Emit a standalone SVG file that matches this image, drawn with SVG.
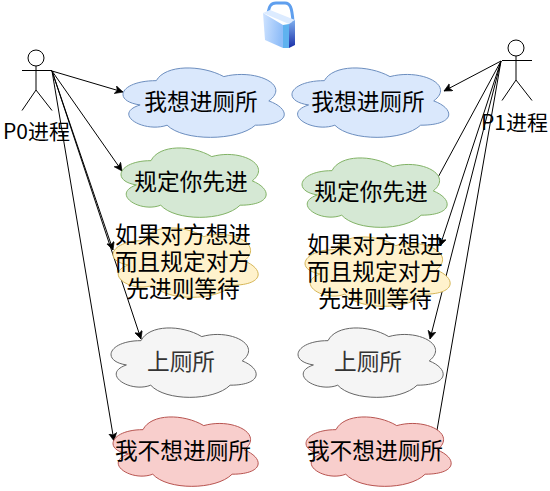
<svg xmlns="http://www.w3.org/2000/svg" width="550" height="491" viewBox="0 0 550 491">
<style>
text{font-family:"Noto Sans CJK SC","Liberation Sans",sans-serif;font-size:22.7px;fill:#000;text-anchor:middle}
.cl{vector-effect:non-scaling-stroke;stroke-width:1}
.blue{fill:#dae8fc;stroke:#6c8ebf}
.green{fill:#d5e8d4;stroke:#82b366}
.yellow{fill:#fff2cc;stroke:#d6b656}
.grey{fill:#f5f5f5;stroke:#666}
.red{fill:#f8cecc;stroke:#b85450}
.a{fill:none;stroke:#000;stroke-width:1}
.l{fill:none;stroke:#000;stroke-width:1;marker-end:url(#ah)}
.dim{fill:#333}
.act{font-size:21px}
</style>
<defs>
<marker id="ah" markerUnits="userSpaceOnUse" markerWidth="10" markerHeight="9" refX="8" refY="4" orient="auto"><path d="M0 0L8 4L0 8L2 4Z" fill="#000" stroke="#000" stroke-width=".6"/></marker>
<linearGradient id="lk" x1="0" x2="1" y1="0" y2="0.2"><stop offset="0" stop-color="#cfe3ff"/><stop offset="1" stop-color="#8fbdf8"/></linearGradient>
<linearGradient id="ls" x1="0" x2="0" y1="0" y2="1"><stop offset="0" stop-color="#7fb0ef"/><stop offset="1" stop-color="#1a2fa8"/></linearGradient>
<path id="cloud" class="cl" d="M25 25C5 25 0 50 16 55C0 66 18 90 31 80C40 100 70 100 80 80C100 80 100 60 87.5 50C100 30 80 10 62.5 20C50 5 30 5 25 25Z"/>
</defs>
<g id="connectors">
<path class="l" d="M52 71L123 92"/>
<path class="l" d="M52 71L122 171"/>
<path class="l" d="M52 71L113 250"/>
<path class="l" d="M52 71L141 339"/>
<path class="l" d="M52 71L114 441"/>
<path class="l" d="M501 61L444 91"/>
<path class="a" d="M501 61L436 181"/>
<path class="l" d="M501 61L440 246"/>
<path class="l" d="M501 61L430 339"/>
<path class="a" d="M501 61L436 436"/>
</g>
<g id="lock">
<path d="M268 14C269 6 271 3 276 3L285 3C290 3 292 7 293 22" fill="none" stroke="#5f9fee" stroke-width="3"/>
<path d="M263 13L270 10L295 20L289 24Z" fill="#dcebff"/>
<path d="M263 13L283 25L283 48L265 40Z" fill="url(#lk)"/>
<path d="M283 25L289 24L289 48L283 48Z" fill="#5fb2ef"/>
<path d="M289 24L295 20L295 45L289 48Z" fill="url(#ls)"/>
</g>
<g id="p0">
<circle cx="36" cy="58" r="8" fill="#fff" stroke="#000"/>
<path class="a" d="M36 66V90M22 70.500H52M36 90L22 110.500M36 90L52 110.500"/>
<text class="act" x="36.500" y="138.500">P0进程</text>
</g>
<g id="p1">
<circle cx="516" cy="48" r="8" fill="#fff" stroke="#000"/>
<path class="a" d="M516 56V80M502 60.500H532M516 80L502 100.500M516 80L532 100.500"/>
<text class="act" x="514.500" y="129.500">P1进程</text>
</g>
<g id="n1"><use href="#cloud" class="blue" transform="translate(111.300 60.400) scale(1.800 .81)"/><text x="201" y="110">我想进厕所</text></g>
<g id="n2"><use href="#cloud" class="green" transform="translate(110.500 140.400) scale(1.620 .81)"/><text x="191" y="190">规定你先进</text></g>
<g id="n3"><use href="#cloud" class="yellow" transform="translate(102.500 220.400) scale(1.620 .81)"/><text x="183" y="243">如果对方想进<tspan x="183" dy="27">而且规定对方</tspan><tspan x="183" dy="27">先进则等待</tspan></text></g>
<g id="n4"><use href="#cloud" class="grey" transform="translate(100.500 320.400) scale(1.620 .81)"/><text class="dim" x="181" y="370">上厕所</text></g>
<g id="n5"><use href="#cloud" class="red" transform="translate(102.500 409.400) scale(1.620 .81)"/><text x="183" y="459">我不想进厕所</text></g>
<g id="n6"><use href="#cloud" class="blue" transform="translate(280.600 60.400) scale(1.750 .81)"/><text x="368" y="110">我想进厕所</text></g>
<g id="n7"><use href="#cloud" class="green" transform="translate(291.500 150.400) scale(1.620 .81)"/><text x="371" y="200">规定你先进</text></g>
<g id="n8"><use href="#cloud" class="yellow" transform="translate(294.500 229.400) scale(1.620 .81)"/><text x="375" y="253">如果对方想进<tspan x="375" dy="27">而且规定对方</tspan><tspan x="375" dy="27">先进则等待</tspan></text></g>
<g id="n9"><use href="#cloud" class="grey" transform="translate(287.500 320.400) scale(1.620 .81)"/><text class="dim" x="368" y="370">上厕所</text></g>
<g id="n10"><use href="#cloud" class="red" transform="translate(295.500 409.400) scale(1.620 .81)"/><text x="375" y="459">我不想进厕所</text></g>
</svg>
